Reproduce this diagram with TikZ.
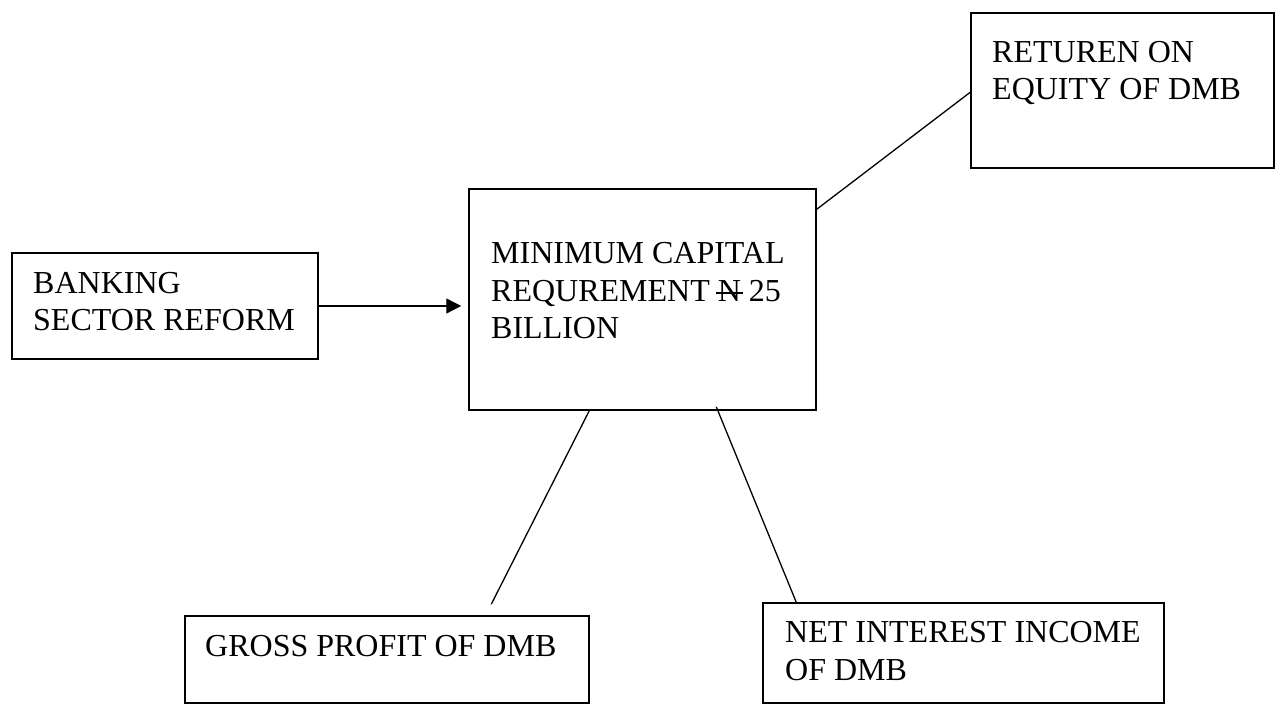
\documentclass[tikz,border=0pt]{standalone}
\usepackage{fontspec}
\setmainfont{Liberation Serif}
\usetikzlibrary{arrows.meta}
\newcommand{\nairasign}{\leavevmode\rlap{\kern-0.06em\rule[0.24em]{0.84em}{0.045em}}N}
\tikzset{
  box/.style={draw, line width=1.5pt, inner sep=0pt, rectangle},
  txt/.style={anchor=base west, inner sep=0pt, align=left, font=\fontsize{32}{37.5}\selectfont},
  link/.style={line width=1.3pt},
}
\begin{document}
\begin{tikzpicture}[x=1pt,y=1pt]
\useasboundingbox (0,0) rectangle (1276,704);
% boxes
\node[box, minimum width=306pt, minimum height=106pt] (bsr) at (165,398) {};
\node[box, minimum width=347pt, minimum height=221pt] (mcr) at (642.5,404.5) {};
\node[box, minimum width=303pt, minimum height=155pt] (roe) at (1122.5,613.5) {};
\node[box, minimum width=404pt, minimum height=87pt] (gp) at (387,44.5) {};
\node[box, minimum width=401pt, minimum height=100pt] (nii) at (963.5,51) {};
% texts (anchored at the baseline of the last line)
\node[txt] (bsrt) at (33,373) {BANKING\\SECTOR REFORM};
\node[txt] (mcrt) at (491,365) {MINIMUM CAPITAL\\REQUREMENT \nairasign{} 25\\BILLION};
\node[txt] (roet) at (992,604) {RETUREN ON\\EQUITY OF DMB};
\node[txt] (gpt) at (205,48) {GROSS PROFIT OF DMB};
\node[txt] (niit) at (785,24) {NET INTEREST INCOME\\OF DMB};
% connectors
\coordinate (gpend) at ([xshift=307pt,yshift=11pt]gp.north west);
\draw[link, -{Triangle[length=15pt,width=15pt]}, shorten >=7pt] (bsr.east) -- (bsr.east -| mcr.west);
\draw[link] ([yshift=-21pt]mcr.north east) -- ([yshift=-80pt]roe.north west);
\draw[link] ([xshift=121pt]mcr.south west) -- (gpend);
\draw[link] ([xshift=248pt,yshift=4pt]mcr.south west) -- ([xshift=34pt]nii.north west);
\end{tikzpicture}
\end{document}
